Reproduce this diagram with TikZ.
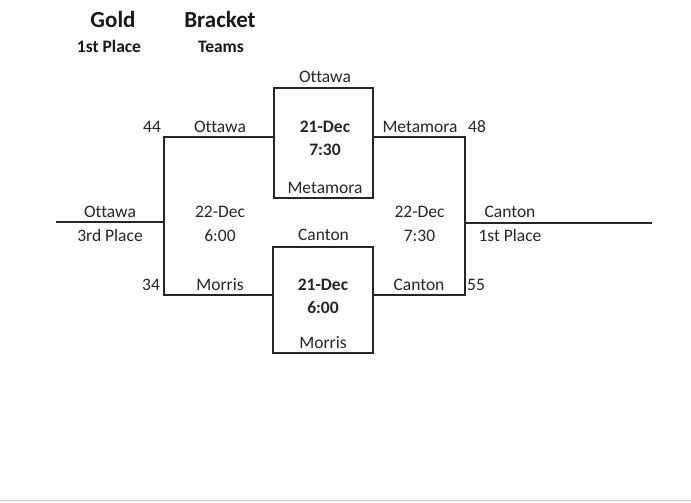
\documentclass[tikz,border=0pt]{standalone}
\usepackage{fontspec}
\setmainfont{Carlito}[Ligatures=NoCommon]
\begin{document}
\begin{tikzpicture}[x=1pt,y=-1pt,
  ln/.style={line width=1.3pt,draw=black!85},
  lbl/.style={anchor=base,inner sep=0pt,font=\fontsize{17.5}{20}\selectfont,text=black!85},
  blbl/.style={lbl,font=\fontsize{17.5}{20}\selectfont\bfseries},
  hd/.style={anchor=base,inner sep=0pt,font=\fontsize{23}{26}\selectfont\bfseries,text=black!90},
  sub/.style={anchor=base,inner sep=0pt,font=\fontsize{17.5}{20}\selectfont\bfseries,text=black!90},
  gamebox/.style={ln,rectangle,inner sep=0pt}]
\useasboundingbox (0,0) rectangle (691,503);
\fill[white] (0,0) rectangle (691,503);
\draw[black!22,line width=1.6pt] (0,500.5) -- (691,500.5);
% headings
\node[hd] (gold) at (113,28) {Gold};
\node[sub] (gp) at (109,53) {1st Place};
\node[hd] (brk) at (220,28) {Bracket};
\node[sub] (tms) at (221,53) {Teams};
% game boxes
\node[gamebox,minimum width=99pt,minimum height=110pt] (g1) at (323.5,143) {};
\node[gamebox,minimum width=100pt,minimum height=106pt] (g2) at (323,300) {};
% bracket corners
\coordinate (l1) at (164,137);
\coordinate (l2) at (164,295);
\coordinate (lm) at (164,222);
\coordinate (lo) at (56,222);
\coordinate (r1) at (465,137);
\coordinate (r2) at (465,295);
\coordinate (rm) at (465,223);
\coordinate (ro) at (652,223);
\draw[ln] (l1 -| g1.west) -- (l1) -- (l2) -- (l2 -| g2.west);
\draw[ln] (lm) -- (lo);
\draw[ln] (r1 -| g1.east) -- (r1) -- (r2) -- (r2 -| g2.east);
\draw[ln] (rm) -- (ro);
% top game
\node[lbl] (t1) at (325,82) {Ottawa};
\node[blbl] (d1) at (325,132) {21-Dec};
\node[blbl] (h1) at (325,155) {7:30};
\node[lbl] (b1) at (325,193) {Metamora};
% bottom game
\node[lbl] (t2) at (323.5,240) {Canton};
\node[blbl] (d2) at (323,290) {21-Dec};
\node[blbl] (h2) at (323,313) {6:00};
\node[lbl] (b2) at (323,348) {Morris};
% left side
\node[lbl] (s44) at (152,132) {44};
\node[lbl] (lo1) at (220,132) {Ottawa};
\node[lbl] (s34) at (151,290) {34};
\node[lbl] (lmo) at (220,290) {Morris};
\node[lbl] (ld) at (220,217) {22-Dec};
\node[lbl] (lt) at (220,241) {6:00};
\node[lbl] (lw) at (110,217) {Ottawa};
\node[lbl] (lp) at (110,241) {3rd Place};
% right side
\node[lbl] (rme) at (420,132) {Metamora};
\node[lbl] (s48) at (477,132) {48};
\node[lbl] (rca) at (419,290) {Canton};
\node[lbl] (s55) at (476,290) {55};
\node[lbl] (rd) at (419.5,217) {22-Dec};
\node[lbl] (rt) at (419.5,241) {7:30};
\node[lbl] (rw) at (510,217) {Canton};
\node[lbl] (rp) at (510,241) {1st Place};
\end{tikzpicture}
\end{document}
